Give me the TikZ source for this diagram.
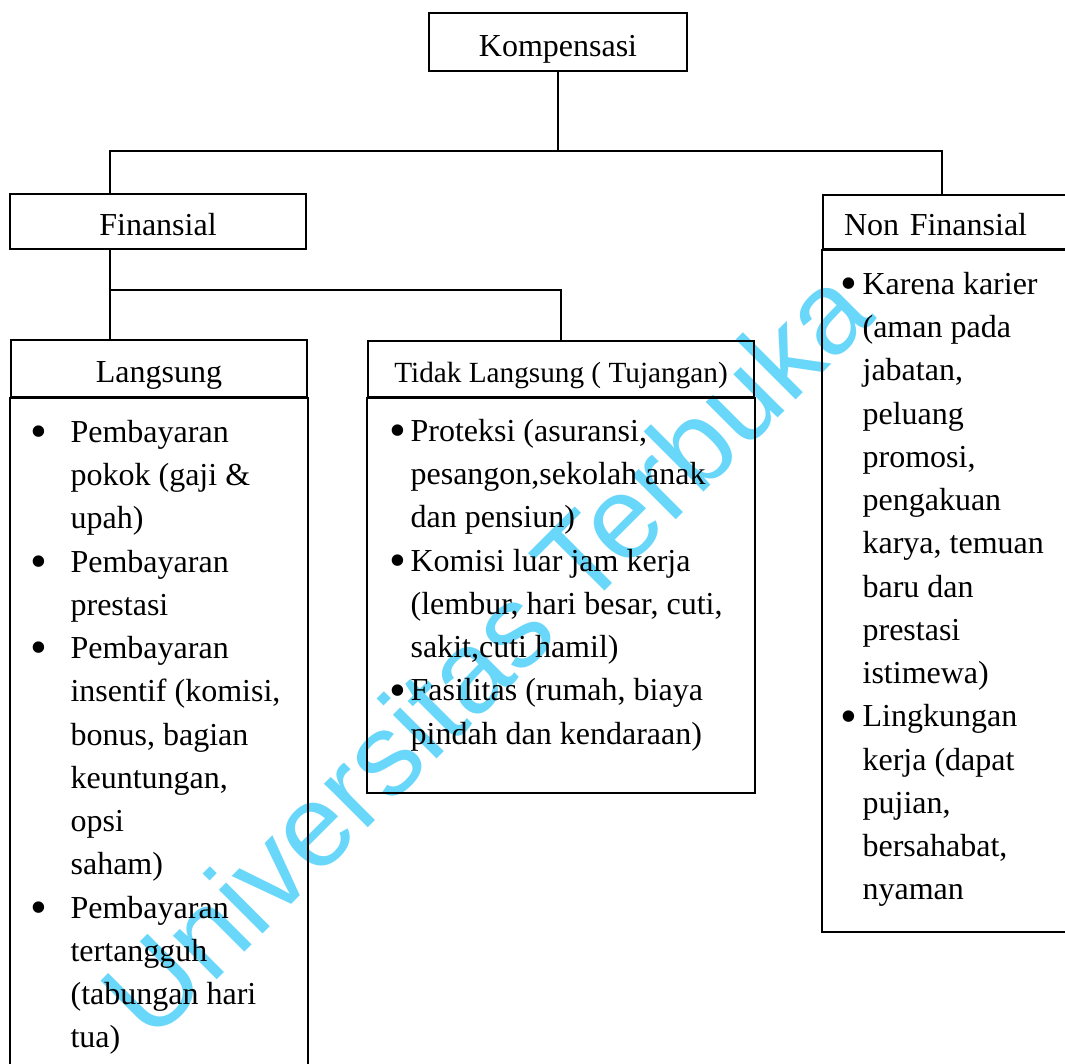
\documentclass[tikz,border=0pt]{standalone}
\usepackage{fontspec}
\setmainfont{Liberation Serif}
\newfontfamily\wmfont{Liberation Sans}
\usepackage{tikz}
\usetikzlibrary{positioning,calc}
\definecolor{wmcyan}{RGB}{105,215,250}
\newcommand{\fs}{\fontsize{12.8}{17.3}\selectfont}
\newcommand{\bul}[1]{\makebox[#1][l]{\raisebox{-0.16em}{\scalebox{1.5}{\textbullet}}}}
\newcommand{\ind}[1]{\hspace*{#1}}
\tikzset{
  hbox/.style={draw,line width=0.8pt,inner sep=0pt,font=\fs,text height=1.25em,text depth=0.15em},
  body/.style={draw,line width=0.8pt},
  conn/.style={line width=0.6pt},
  lst/.style={anchor=north west,inner sep=0pt,align=left,font=\fs},
  wmark/.style={rotate=45,inner sep=0pt,text=wmcyan,font=\wmfont\fontsize{46.8}{50}\selectfont}
}
\begin{document}
\begin{tikzpicture}[x=0.4pt,y=-0.4pt]
\path[use as bounding box,fill=white](0,0)rectangle(1065,1064);
% watermark
\node[wmark](wm)at(485,652){Universitas Terbuka};
% boxes
\node[hbox,minimum width=103.2pt,minimum height=23.2pt](komp)at(558,42.5){Kompensasi};
\node[hbox,minimum width=118.4pt,minimum height=22pt](fin)at(158,221.5){Finansial};
\node[hbox,anchor=north west,minimum height=21.6pt,inner xsep=8.4pt,text width=95.6pt,align=left](nonfin)at(822,194){Non Finansial};
\node[hbox,minimum width=118.4pt,minimum height=22.8pt](lang)at(159,368.5){Langsung};
\node[hbox,minimum width=154.4pt,minimum height=22.4pt,font=\fontsize{11.7}{14}\selectfont](tidak)at(561,369){Tidak Langsung ( Tujangan)};
\draw[body](lang.south west)rectangle(lang.south east|-0,1080);
\draw[body](tidak.south west)rectangle(tidak.south east|-0,793);
\draw[body](nonfin.south west)rectangle(1100,932);
% lists
\node[lst](langlist)at(29.6,411.7){\strut\bul{16.2pt}Pembayaran\\\ind{16.2pt}pokok (gaji \&\\\ind{16.2pt}upah)\\
\bul{16.2pt}Pembayaran\\\ind{16.2pt}prestasi\\
\bul{16.2pt}Pembayaran\\\ind{16.2pt}insentif (komisi,\\\ind{16.2pt}bonus, bagian\\\ind{16.2pt}keuntungan,\\\ind{16.2pt}opsi\\\ind{16.2pt}saham)\\
\bul{16.2pt}Pembayaran\\\ind{16.2pt}tertangguh\\\ind{16.2pt}(tabungan hari\\\ind{16.2pt}tua)};
\node[lst](tidaklist)at(388.6,410.7){\strut\bul{8.6pt}Proteksi (asuransi,\\\ind{8.6pt}pesangon,sekolah anak\\\ind{8.6pt}dan pensiun)\\
\bul{8.6pt}Komisi luar jam kerja\\\ind{8.6pt}(lembur, hari besar, cuti,\\\ind{8.6pt}sakit,cuti hamil)\\
\bul{8.6pt}Fasilitas (rumah, biaya\\\ind{8.6pt}pindah dan kendaraan)};
\node[lst](nonlist)at(839.6,263.7){\strut\bul{9pt}Karena karier\\\ind{9pt}(aman pada\\\ind{9pt}jabatan,\\\ind{9pt}peluang\\\ind{9pt}promosi,\\\ind{9pt}pengakuan\\\ind{9pt}karya, temuan\\\ind{9pt}baru dan\\\ind{9pt}prestasi\\\ind{9pt}istimewa)\\
\bul{9pt}Lingkungan\\\ind{9pt}kerja (dapat\\\ind{9pt}pujian,\\\ind{9pt}bersahabat,\\\ind{9pt}nyaman};
% connectors
\coordinate(j1)at(110,151);
\coordinate(j2)at(942,151);
\coordinate(j3)at(110,290);
\draw[conn](komp.south)|-(j1)--(j1|-fin.north);
\draw[conn](komp.south)|-(j2)--(j2|-nonfin.north);
\draw[conn](j1|-fin.south)--(j1|-lang.north);
\draw[conn](j3)-|(tidak.north);
\end{tikzpicture}
\end{document}
